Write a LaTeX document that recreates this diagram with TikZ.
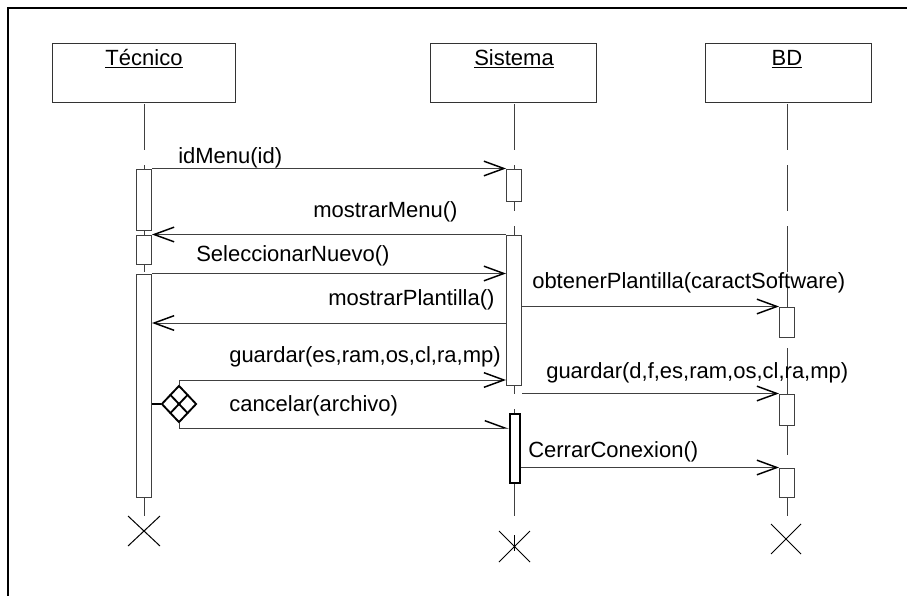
\documentclass[tikz,border=0pt]{standalone}
\usepackage{fontspec}
\setmainfont{Liberation Sans}
\usetikzlibrary{arrows.meta,shapes.geometric,calc}
\begin{document}
\begin{tikzpicture}[x=0.75pt,y=-0.75pt,
  txt/.style={font=\fontsize{16.5}{20}\selectfont, inner sep=0pt, text=black},
  lbl/.style={txt, anchor=west},
  objbox/.style={draw=black!80, line width=0.75pt, fill=white, inner sep=0pt, minimum height=44.25pt},
  lifeline/.style={draw=black!75, line width=0.75pt, dash pattern=on 34.5pt off 11.25pt},
  act/.style={draw=black!75, line width=0.75pt, fill=white, inner sep=0pt, minimum width=11.25pt},
  msg/.style={draw=black!75, line width=0.75pt,
    -{Straight Barb[length=15pt,width=11pt,line width=1.1pt,color=black]}},
  amsg/.style={draw=black!75, line width=0.75pt,
    -{Straight Barb[left,length=15pt,width=11pt,line width=1.1pt,color=black]}},
  endmark/.style={draw=black, line width=0.75pt},
]
\useasboundingbox (0,0) rectangle (907,596);
% frame
\draw[black, line width=1.8pt] (8,596) -- (8,8) -- (907,8);

% objects
\node[objbox, minimum width=137.25pt] (tec) at (143.5,72.5) {};
\node[objbox, minimum width=124.5pt] (sis) at (513,72.5) {};
\node[objbox, minimum width=124.5pt] (bd) at (788,72.5) {};
\node[txt, anchor=base] (tecT) at (144,65) {\underline{Técnico}};
\node[txt, anchor=base] (sisT) at (514,65) {\underline{Sistema}};
\node[txt, anchor=base] (bdT) at (787,65) {\underline{BD}};

% lifelines
\coordinate (tecE) at (144,519);
\coordinate (sisE) at (514,519);
\coordinate (bdE) at (787,519);
\draw[lifeline] (144,104) -- (tecE);
\draw[lifeline] (514,104) -- (sisE);
\draw[lifeline] (787,104) -- (bdE);

% activations
\node[act, minimum height=45.75pt] (t1) at (144,199.5) {};
\node[act, minimum height=21.75pt] (t2) at (144,249.5) {};
\node[act, minimum height=167.25pt] (t3) at (144,385.5) {};
\node[act, minimum height=24pt] (s1) at (514,185) {};
\node[act, minimum height=112.5pt] (s2) at (514,310) {};
\node[act, line width=1.6pt, draw=black, minimum width=7.5pt, minimum height=51.75pt] (s3) at (515,448.5) {};
\node[act, minimum height=22.5pt] (b1) at (787,322) {};
\node[act, minimum height=23.25pt] (b2) at (787,409.5) {};
\node[act, minimum height=21.75pt] (b3) at (787,482.5) {};

% message levels
\coordinate (y4) at (0,323);
\coordinate (g1) at (179,380);
\coordinate (c1) at (179,428);

% branch diamond
\node[diamond, draw=black, line width=1.4pt, inner sep=0pt, minimum width=26.25pt, minimum height=27.75pt] (dec) at (179,404) {};
\draw[black, line width=1.4pt] ($(dec.north)!0.5!(dec.west)$) -- ($(dec.south)!0.5!(dec.east)$);
\draw[black, line width=1.4pt] ($(dec.north)!0.5!(dec.east)$) -- ($(dec.south)!0.5!(dec.west)$);
\draw[black, line width=1.4pt] (t3.east |- dec.west) -- (dec.west);

% messages
\draw[msg] (t1.north east) -- (s1.north west);
\node[lbl] (l1) at (178,158) {idMenu(id)};
\draw[msg] (s2.north west) -- (t2.north east);
\node[lbl] (l2) at (313,212) {mostrarMenu()};
\draw[msg] (t3.north east) -- (t3.north east -| s2.west);
\node[lbl] (l3) at (196,256) {SeleccionarNuevo()};
\draw[msg] (s2.west |- y4) -- (t3.east |- y4);
\node[lbl] (l4) at (328,300) {mostrarPlantilla()};
\draw[msg] (s2.east |- b1.north) -- (b1.north west);
\node[lbl] (l5) at (532,283) {obtenerPlantilla(caractSoftware)};
\draw[msg] (dec.north) -- (g1) -- (g1 -| s2.west);
\node[lbl] (l6) at (229,357) {guardar(es,ram,os,cl,ra,mp)};
\draw[msg] (s2.east |- b2.north) -- (b2.north west);
\node[lbl] (l7) at (546,373) {guardar(d,f,es,ram,os,cl,ra,mp)};
\draw[amsg] (dec.south) -- (c1) -- (c1 -| s3.west);
\node[lbl] (l8) at (229,406) {cancelar(archivo)};
\draw[msg] (s3.east |- b3.north) -- (b3.north west);
\node[lbl] (l9) at (528,452) {CerrarConexion()};

% destruction marks
\draw[endmark] (128,516) -- (160,546) (128,546) -- (160,516);
\draw[endmark] (499,531) -- (530,562) (499,562) -- (530,531);
\draw[endmark] (514,535) -- (514,551);
\draw[endmark] (771,524) -- (801,554) (771,554) -- (801,524);
\end{tikzpicture}
\end{document}
